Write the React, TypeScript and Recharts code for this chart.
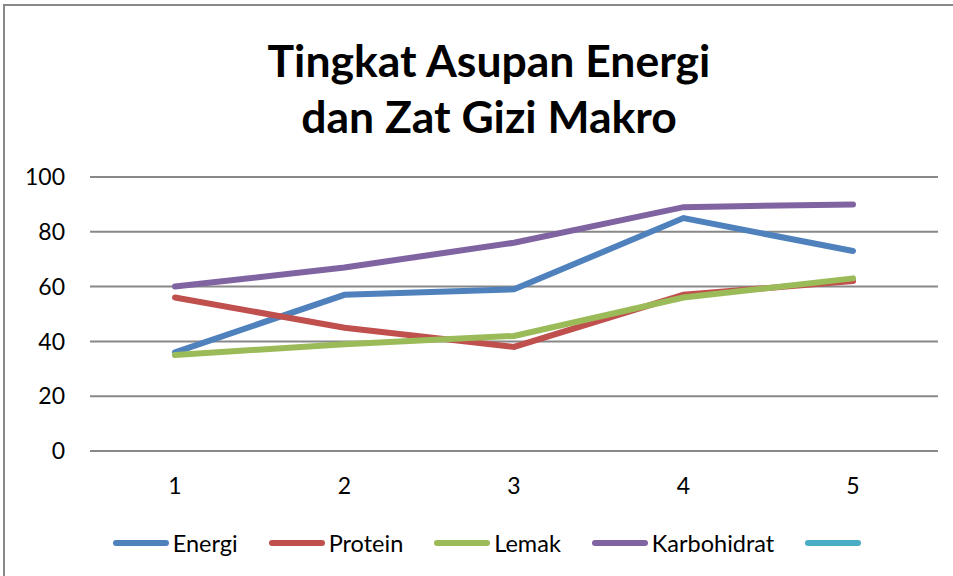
import { CartesianGrid, Legend, Line, LineChart, XAxis, YAxis } from 'recharts'

const categories = ['1', '2', '3', '4', '5']
const energi = [36, 57, 59, 85, 73]
const protein = [56, 45, 38, 57, 62]
const lemak = [35, 39, 42, 56, 63]
const karbohidrat = [60, 67, 76, 89, 90]
const yTicks = [0, 20, 40, 60, 80, 100]

const seriesNames = ['Energi', 'Protein', 'Lemak', 'Karbohidrat', '']
const seriesColors = ['#4f81bd', '#c0504d', '#9bbb59', '#8064a2', '#4bacc6']

const data = categories.map((c, i) => ({
  cat: c,
  energi: energi[i],
  protein: protein[i],
  lemak: lemak[i],
  karbohidrat: karbohidrat[i],
}))

const FONT = 'Lato, "Open Sans", sans-serif'

// legend drawn in series order (recharts sorts the payload by name otherwise)
function LegendRow() {
  return (
    <div style={{ display: 'flex', justifyContent: 'center', alignItems: 'center', height: 50, paddingBottom: 16, paddingLeft: 36, boxSizing: 'border-box', fontFamily: FONT, fontSize: 23.5, color: '#000' }}>
      {seriesNames.map((name, i) => (
        <div key={i} style={{ display: 'flex', alignItems: 'center', marginRight: i < 4 ? 31 : 0 }}>
          <span style={{ display: 'inline-block', width: 56, height: 6, borderRadius: 3, background: seriesColors[i] }} />
          {name ? <span style={{ marginLeft: 4 }}>{name}</span> : null}
        </div>
      ))}
    </div>
  )
}

export default function App() {
  return (
    <div style={{ position: 'fixed', left: 0, top: 0, width: 953, height: 576, overflow: 'hidden', background: '#fff' }}>
      <div style={{ position: 'absolute', left: 3, top: 4, width: 1000, height: 700, border: '2px solid #888' }} />
      <div style={{ position: 'absolute', left: 0, top: 32, width: 978, textAlign: 'center', fontFamily: FONT, fontWeight: 700, fontSize: 44.5, lineHeight: '56px', color: '#000' }}>
        Tingkat Asupan Energi
        <br />
        dan Zat Gizi Makro
      </div>
      <div style={{ position: 'absolute', left: 0, top: 0 }}>
        <LineChart width={953} height={576} data={data} margin={{ top: 177, right: 15, bottom: 0, left: 0 }}>
          <CartesianGrid vertical={false} stroke="#888" strokeWidth={2} />
          <XAxis
            dataKey="cat"
            padding={{ left: 85, right: 85 }}
            axisLine={{ stroke: '#888', strokeWidth: 2 }}
            tickLine={false}
            tickMargin={21}
            height={75}
            tick={{ fontSize: 23, fill: '#000', fontFamily: FONT }}
          />
          <YAxis
            domain={[0, 100]}
            ticks={yTicks}
            axisLine={false}
            tickLine={false}
            width={90}
            tickMargin={19}
            tick={{ fontSize: 23, fill: '#000', fontFamily: FONT }}
          />
          <Legend verticalAlign="bottom" height={50} content={<LegendRow />} />
          <Line dataKey="energi" name="Energi" stroke={seriesColors[0]} strokeWidth={6} strokeLinecap="round" dot={false} isAnimationActive={false} />
          <Line dataKey="protein" name="Protein" stroke={seriesColors[1]} strokeWidth={6} strokeLinecap="round" dot={false} isAnimationActive={false} />
          <Line dataKey="lemak" name="Lemak" stroke={seriesColors[2]} strokeWidth={6} strokeLinecap="round" dot={false} isAnimationActive={false} />
          <Line dataKey="karbohidrat" name="Karbohidrat" stroke={seriesColors[3]} strokeWidth={6} strokeLinecap="round" dot={false} isAnimationActive={false} />
          <Line dataKey="kosong" name=" " stroke={seriesColors[4]} strokeWidth={6} dot={false} isAnimationActive={false} />
        </LineChart>
      </div>
    </div>
  )
}
